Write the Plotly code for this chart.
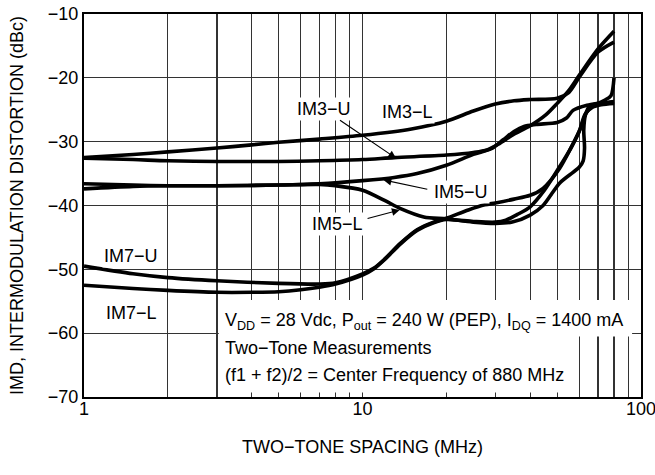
import math
import plotly.graph_objects as go

# ---------------- data ----------------
im3l_x = [1, 1.5, 2, 3, 4, 5, 7, 10, 15, 20, 25, 30, 35, 40, 50, 55, 60, 70, 80]
im3l_y = [-32.5, -32.0, -31.6, -31.0, -30.5, -30.1, -29.6, -29.0, -28.0, -26.8,
          -25.2, -24.1, -23.6, -23.4, -23.2, -22.3, -19.9, -16.0, -14.4]

im3u_x = [1, 1.5, 2, 3, 5, 7, 10, 13, 20, 25, 28, 31, 34.5, 40, 45.5, 50, 55, 60, 70, 80]
im3u_y = [-32.6, -32.8, -33.0, -33.1, -33.1, -33.0, -32.8, -32.5, -32.1, -31.7,
          -31.3, -30.3, -29.0, -27.5, -25.8, -24.0, -22.0, -19.6, -15.5, -12.7]

im5u_x = [1, 1.5, 2, 3, 5, 7, 10, 13, 15.7, 20, 25, 29, 32, 35, 38, 42, 50, 54, 57, 64, 70, 80]
im5u_y = [-36.6, -36.8, -36.9, -36.9, -36.8, -36.6, -36.1, -35.6, -35.0, -33.7,
          -32.0, -31.1, -29.7, -28.4, -27.6, -27.3, -27.0, -26.3, -25.1, -24.3, -24.0, -23.7]

im5l_x = [1, 1.5, 2, 3, 5, 7, 8, 10, 12, 13.7, 16.6, 20, 25, 30, 34.5, 40, 44.5, 51,
          57, 60, 62, 62.7, 62.3, 63.2, 65.5, 70, 74, 78, 80]
im5l_y = [-37.4, -37.0, -36.9, -36.9, -36.8, -36.7, -36.9, -37.6, -39.2, -40.5,
          -41.8, -42.1, -42.6, -42.8, -42.6, -41.5, -40.0, -36.5, -34.8, -34.0,
          -33.0, -31.0, -28.2, -25.8, -24.4, -24.0, -23.5, -22.8, -20.0]

im7u_x = [1, 1.5, 2, 3, 5, 7, 8, 10, 11, 12, 13.7, 15.7, 18, 20, 24, 27.5, 30, 35,
          40, 44.5, 51, 56, 60.5, 63.5, 67, 72, 80]
im7u_y = [-49.5, -50.7, -51.3, -51.8, -52.2, -52.3, -52.1, -50.7, -49.8, -48.4,
          -45.9, -43.8, -42.6, -42.0, -40.7, -39.9, -39.6, -39.0, -38.4, -37.3,
          -34.2, -31.0, -28.0, -25.5, -24.5, -24.1, -23.8]

im7l_x = [1, 1.5, 2, 3, 4, 5, 6, 7, 8, 10, 11, 12, 13.7, 15.7, 18, 20, 25, 30, 32.7,
          36, 40, 45, 49.7, 55, 60, 63, 67, 72, 80]
im7l_y = [-52.5, -53.0, -53.3, -53.6, -53.6, -53.5, -53.2, -52.8, -52.3, -50.9,
          -49.9, -48.5, -46.0, -43.9, -42.7, -42.2, -42.5, -42.6, -42.3, -41.4,
          -40.2, -37.6, -34.7, -31.6, -28.4, -25.7, -24.6, -24.2, -24.0]

series = [
    ("IM3-L", im3l_x, im3l_y),
    ("IM3-U", im3u_x, im3u_y),
    ("IM5-U", im5u_x, im5u_y),
    ("IM5-L", im5l_x, im5l_y),
    ("IM7-U", im7u_x, im7u_y),
    ("IM7-L", im7l_x, im7l_y),
]

x_tick_vals = [1, 2, 3, 4, 5, 6, 7, 8, 9, 10, 20, 30, 40, 50, 60, 70, 80, 90, 100]
x_tick_text = ["1", "", "", "", "", "", "", "", "", "10",
               "", "", "", "", "", "", "", "", "100"]
y_tick_vals = [-70, -60, -50, -40, -30, -20, -10]

# curve labels: (text, x, y)
curve_labels = [
    ("IM3\u2212U", 7.3, -24.9),
    ("IM3\u2212L", 14.5, -25.4),
    ("IM5\u2212U", 22.5, -37.9),
    ("IM5\u2212L", 8.1, -42.9),
    ("IM7\u2212U", 1.48, -47.9),
    ("IM7\u2212L", 1.48, -56.8),
]
# arrows: (tail x, tail y, head x, head y)
arrows = [
    (8.2, -26.5, 13.2, -32.6),
    (17.3, -37.5, 11.9, -36.0),
    (10.3, -42.1, 13.6, -40.7),
]

note_lines = [
    "V<sub>DD</sub> = 28 Vdc, P<sub>out</sub> = 240 W (PEP), I<sub>DQ</sub> = 1400 mA",
    "Two\u2212Tone Measurements",
    "(f1 + f2)/2 = Center Frequency of 880 MHz",
]

FONT = "Liberation Sans, Arial, Helvetica, sans-serif"
FS = 18

fig = go.Figure()
for name, xs, ys in series:
    fig.add_trace(go.Scatter(
        x=xs, y=ys, mode="lines", name=name,
        line=dict(color="black", width=3.6, shape="spline", smoothing=0.8),
        showlegend=False, hoverinfo="skip",
    ))

annotations = []
for text, x, y in curve_labels:
    annotations.append(dict(
        x=math.log10(x), y=y, xref="x", yref="y", text=text, showarrow=False,
        font=dict(size=FS, color="black", family=FONT), bgcolor="white",
        borderpad=1,
    ))
for tx, ty, hx, hy in arrows:
    annotations.append(dict(
        x=math.log10(hx), y=hy, ax=math.log10(tx), ay=ty,
        xref="x", yref="y", axref="x", ayref="y", text="",
        showarrow=True, arrowhead=2, arrowsize=1.3, arrowwidth=1.2,
        arrowcolor="black", standoff=0, startstandoff=0,
    ))
note_y = [0.197, 0.127, 0.057]
for line, yy in zip(note_lines, note_y):
    annotations.append(dict(
        x=0.249, y=yy, xref="paper", yref="paper", xanchor="left", yanchor="middle",
        text=line, showarrow=False, align="left",
        font=dict(size=FS, color="black", family=FONT),
    ))

shapes = [
    dict(type="rect", xref="paper", yref="paper", x0=0.242, x1=0.984,
         y0=0.158, y1=0.253, fillcolor="white", line=dict(width=0), layer="above"),
    dict(type="rect", xref="paper", yref="paper", x0=0.242, x1=0.866,
         y0=0.012, y1=0.159, fillcolor="white", line=dict(width=0), layer="above"),
]

fig.update_layout(
    width=655, height=475,
    margin=dict(l=84, r=14, t=14, b=78),
    paper_bgcolor="white", plot_bgcolor="white",
    font=dict(family=FONT, size=FS, color="black"),
    annotations=annotations, shapes=shapes,
    hovermode=False,
    xaxis=dict(
        type="log", range=[0, 2], tickvals=x_tick_vals, ticktext=x_tick_text,
        showgrid=True, gridcolor="#333333", gridwidth=1.3,
        showline=True, linecolor="black", linewidth=2, mirror=True,
        ticks="", tickfont=dict(size=FS), automargin=False,
        ticklabeloverflow="allow", ticklabelstandoff=-6,
        title=dict(text="TWO\u2212TONE SPACING (MHz)", font=dict(size=FS), standoff=23),
        zeroline=False,
    ),
    yaxis=dict(
        range=[-70, -10], tickvals=y_tick_vals,
        showgrid=True, gridcolor="#333333", gridwidth=1.3,
        showline=True, linecolor="black", linewidth=2, mirror=True,
        ticks="", tickfont=dict(size=FS), automargin=False,
        ticklabeloverflow="allow",
        title=dict(text="IMD, INTERMODULATION DISTORTION (dBc)", font=dict(size=FS), standoff=20),
        zeroline=False,
    ),
)

# remove the default page margin so the figure fills the 655x475 window exactly
fig.write_html("out.html", config={"displayModeBar": False, "staticPlot": True},
               post_script="document.body.style.margin='0px';")
